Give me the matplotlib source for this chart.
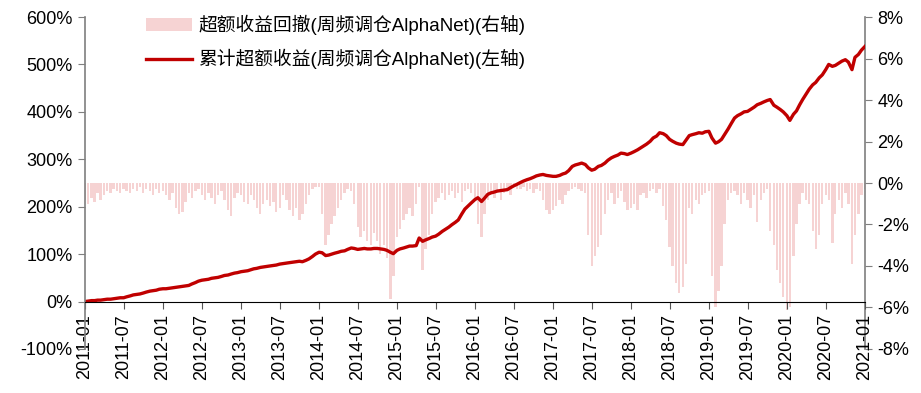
import matplotlib
matplotlib.use("Agg")
import matplotlib.pyplot as plt
from matplotlib.patches import Patch
from matplotlib.lines import Line2D
from matplotlib.ticker import FuncFormatter, MultipleLocator, FixedLocator, FixedFormatter
import matplotlib.dates as mdates
import pandas as pd

plt.rcParams['font.family'] = ['Liberation Sans', 'Noto Sans CJK SC', 'DejaVu Sans']

# semi-monthly observation dates
dates = pd.date_range('2011-01-01', '2021-01-01', freq='SMS')

# cumulative excess return (%), left axis
cum_excess = [
    0, 1, 2, 2, 3, 3, 4, 5, 5, 6, 7, 8, 8, 10, 12, 14, 15, 16, 18, 20, 22, 23, 24, 26,
    27, 27, 28, 29, 30, 31, 32, 33, 34, 37, 40, 43, 45, 46, 47, 49, 50, 51, 53, 55, 56, 58, 60, 61,
    63, 64, 65, 67, 69, 70, 72, 73, 74, 75, 76, 77, 79, 80, 81, 82, 83, 84, 85, 84, 87, 90, 95, 100,
    104, 103, 97, 98, 100, 102, 104, 106, 107, 110, 113, 112, 110, 111, 112, 111, 111, 112, 112, 111, 110, 108, 104, 101,
    108, 111, 113, 115, 117, 117, 118, 134, 127, 130, 133, 136, 138, 142, 148, 152, 157, 162, 167, 172, 185, 195, 202, 208,
    215, 219, 211, 218, 226, 229, 231, 233, 234, 235, 236, 240, 244, 247, 251, 254, 257, 259, 262, 265, 267, 268, 266, 265,
    264, 264, 266, 269, 271, 276, 285, 288, 290, 292, 289, 282, 277, 279, 285, 287, 292, 298, 303, 306, 309, 313, 312, 310,
    313, 316, 320, 324, 328, 332, 338, 345, 349, 356, 354, 350, 342, 338, 334, 332, 331, 340, 350, 352, 354, 356, 355, 358,
    359, 345, 334, 337, 342, 352, 364, 375, 387, 392, 396, 400, 401, 405, 410, 415, 418, 421, 424, 426, 414, 410, 405, 400,
    392, 382, 395, 402, 415, 426, 438, 448, 457, 462, 472, 478, 489, 500, 496, 498, 503, 507, 510, 505, 489, 515, 521, 530,
    538,
]

# excess return drawdown (%), right axis
drawdown = [
    -0.8, -1.0, -0.7, -0.9, -0.5, -0.8, -0.6, -0.4, -0.5, -0.3, -0.4, -0.5, -0.3, -0.4, -0.5, -0.3, -0.4, -0.2, -0.5, -0.3, -0.4, -0.6, -0.3, -0.5,
    -0.4, -0.6, -0.8, -0.5, -1.2, -1.5, -1.4, -0.9, -0.5, -0.7, -0.4, -0.3, -0.6, -0.8, -0.5, -0.7, -1.0, -0.6, -0.4, -0.8, -1.3, -1.6, -0.7, -0.5,
    -0.6, -0.9, -1.0, -0.6, -0.8, -1.2, -1.5, -1.0, -0.8, -1.1, -0.9, -1.4, -1.2, -0.6, -0.8, -1.3, -1.6, -1.2, -1.8, -1.5, -1.0, -0.6, -0.3, -0.2,
    -0.2, -1.5, -3.0, -2.5, -2.0, -1.6, -1.2, -0.8, -0.5, -0.3, -0.4, -1.0, -2.1, -2.6, -2.3, -2.8, -3.0, -2.4, -2.8, -3.4, -3.0, -3.6, -5.6, -4.5,
    -2.6, -2.2, -1.8, -1.5, -1.2, -1.6, -1.0, -0.2, -4.2, -3.2, -2.5, -1.5, -0.9, -0.7, -0.5, -0.8, -0.6, -0.4, -0.7, -0.5, -0.9, -0.4, -0.3, -0.5,
    -0.8, -2.0, -2.6, -1.5, -0.8, -0.5, -0.7, -0.4, -0.8, -0.5, -0.3, -0.6, -0.2, -0.3, -0.3, -0.2, -0.4, -0.3, -0.5, -0.3, -0.4, -0.8, -1.3, -1.5,
    -1.3, -1.1, -0.8, -1.0, -0.6, -0.4, -0.3, -0.2, -0.3, -0.4, -0.5, -2.5, -4.0, -3.5, -3.1, -2.5, -1.5, -0.8, -0.5, -1.0, -0.7, -0.4, -0.9, -1.3,
    -1.2, -1.0, -1.3, -0.6, -0.5, -0.7, -0.4, -0.3, -0.5, -0.3, -1.1, -1.8, -3.1, -4.0, -4.8, -5.3, -5.0, -3.9, -1.2, -1.5, -0.8, -1.0, -0.6, -0.5,
    -0.4, -4.5, -6.0, -5.2, -4.0, -2.0, -0.8, -0.5, -0.4, -0.6, -1.0, -0.5, -0.8, -1.2, -0.6, -1.9, -0.8, -0.5, -0.3, -2.3, -3.0, -4.2, -4.8, -5.5,
    -6.1, -6.0, -3.5, -2.0, -1.0, -0.5, -0.8, -1.0, -2.3, -3.2, -2.5, -1.0, -0.6, -0.8, -2.9, -1.5, -0.8, -1.2, -0.5, -1.0, -3.9, -2.5, -1.5, -0.6,
    -0.3,
]

tick_dates = pd.date_range('2011-01-01', '2021-01-01', freq='6MS')
tick_labels = [d.strftime('%Y-%m') for d in tick_dates]

label_dd = '超额收益回撤(周频调仓AlphaNet)(右轴)'
label_cum = '累计超额收益(周频调仓AlphaNet)(左轴)'

line_color = '#c00000'
bar_color = '#f6d3d3'
spine_color = '#7f7f7f'

fig = plt.figure(figsize=(9.21, 3.93), dpi=100)
ax = fig.add_axes([0.0923, 0.112, 0.8469, 0.8447])
ax2 = ax.twinx()

ax2.bar(dates, drawdown, width=11, color=bar_color, linewidth=0, align='center')
ax.plot(dates, cum_excess, color=line_color, linewidth=2.4)

ax.set_zorder(ax2.get_zorder() + 1)
ax.patch.set_visible(False)

ax.set_xlim(pd.Timestamp('2011-01-01'), pd.Timestamp('2021-01-01'))
ax.set_ylim(-100, 600)
ax2.set_ylim(-8, 8)

ax.yaxis.set_major_locator(MultipleLocator(100))
ax.yaxis.set_major_formatter(FuncFormatter(lambda v, p: f'{v:.0f}%'))
ax2.yaxis.set_major_locator(MultipleLocator(2))
ax2.yaxis.set_major_formatter(FuncFormatter(lambda v, p: f'{v:.0f}%'))

ax.xaxis.set_major_locator(FixedLocator(mdates.date2num(tick_dates)))
ax.xaxis.set_major_formatter(FixedFormatter(tick_labels))
ax.xaxis.set_minor_locator(FixedLocator([]))

for a in (ax, ax2):
    a.spines['top'].set_visible(False)
ax.spines['right'].set_visible(False)
ax2.spines['left'].set_visible(False)
ax2.spines['bottom'].set_visible(False)
ax.spines['bottom'].set_position(('data', 0))
ax.spines['bottom'].set_color('#000000')
ax.spines['left'].set_color(spine_color)
ax2.spines['right'].set_color(spine_color)
ax.spines['left'].set_linewidth(1.2)
ax2.spines['right'].set_linewidth(1.2)

ax.tick_params(axis='y', labelsize=13, length=5, color=spine_color, pad=4)
ax2.tick_params(axis='y', labelsize=13, length=5, color=spine_color, pad=4)
ax.tick_params(axis='x', labelsize=13, length=5, color='#555555', pad=4, labelrotation=90)

handles = [Patch(facecolor=bar_color, edgecolor='none'),
           Line2D([0], [0], color=line_color, linewidth=2.4)]
leg = ax.legend(handles, [label_dd, label_cum], loc='upper left',
                bbox_to_anchor=(0.056, 1.058), frameon=False, fontsize=13.5,
                handlelength=2.5, handletextpad=0.3, labelspacing=0.75)

fig.savefig('out.png', dpi=100)
